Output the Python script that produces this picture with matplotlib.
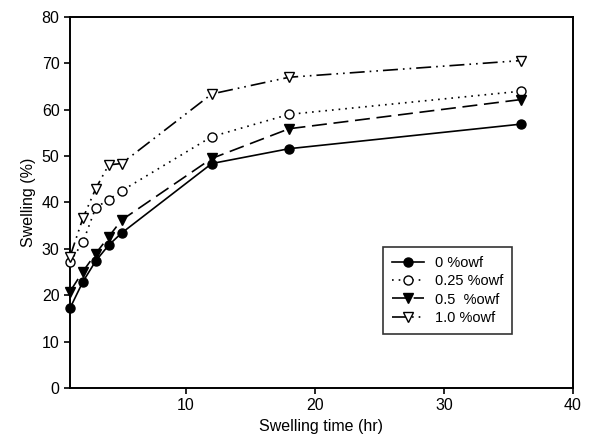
import matplotlib
matplotlib.use("Agg")
import matplotlib.pyplot as plt

plt.rcParams['font.family'] = ['Liberation Sans', 'DejaVu Sans']

time_hr = [1, 2, 3, 4, 5, 12, 18, 36]
s_0 = [17.2, 22.9, 27.4, 30.8, 33.4, 48.4, 51.6, 56.9]
s_025 = [27.2, 31.4, 38.9, 40.6, 42.5, 54.2, 59.0, 64.0]
s_05 = [20.8, 25.1, 29.0, 32.6, 36.2, 49.5, 55.9, 62.2]
s_10 = [28.3, 36.6, 43.0, 48.1, 48.4, 63.4, 67.0, 70.6]
labels = ['0 %owf', '0.25 %owf', '0.5  %owf', '1.0 %owf']

fig = plt.figure(figsize=(5.93, 4.46), dpi=100)
ax = fig.add_axes([0.118, 0.130, 0.848, 0.832])

ms = 6.5
ax.plot(time_hr, s_0, color='black', linestyle='-', marker='o', markersize=ms,
        markerfacecolor='black', lw=1.2, label=labels[0], clip_on=False, zorder=3)
ax.plot(time_hr, s_025, color='black', linestyle=(0, (1, 3)), marker='o', markersize=ms,
        markerfacecolor='white', lw=1.2, label=labels[1], clip_on=False, zorder=3)
ax.plot(time_hr, s_05, color='black', linestyle=(0, (9, 4)), marker='v', markersize=ms,
        markerfacecolor='black', lw=1.2, label=labels[2], clip_on=False, zorder=3)
ax.plot(time_hr, s_10, color='black', linestyle=(0, (9, 3, 1, 3, 1, 3)), marker='v', markersize=ms,
        markerfacecolor='white', lw=1.2, label=labels[3], clip_on=False, zorder=3)

ax.set_xlim(1, 40)
ax.set_ylim(0, 80)
ax.set_xticks([10, 20, 30, 40])
ax.set_yticks(range(0, 81, 10))
ax.tick_params(direction='out', length=4, width=1.2, labelsize=11.5, colors='black')
for sp in ax.spines.values():
    sp.set_linewidth(1.4)
ax.set_xlabel('Swelling time (hr)', fontsize=11.5)
ax.set_ylabel('Swelling (%)', fontsize=11.5)

leg = ax.legend(loc='upper left', bbox_to_anchor=(0.622, 0.38), frameon=True, fancybox=False,
                edgecolor='black', fontsize=10.5, handlelength=2.2, borderpad=0.6, labelspacing=0.3,
                borderaxespad=0)
leg.get_frame().set_linewidth(1.2)

fig.savefig('out.png', dpi=100)
